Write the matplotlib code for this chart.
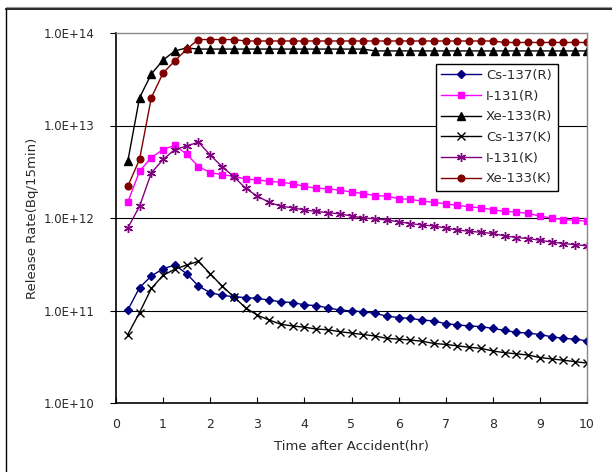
import matplotlib
matplotlib.use("Agg")
import matplotlib.pyplot as plt
from matplotlib.lines import Line2D

# time after accident (hr), one point every 15 min
hours = [0.25, 0.5, 0.75, 1.0, 1.25, 1.5, 1.75, 2.0, 2.25, 2.5,
         2.75, 3.0, 3.25, 3.5, 3.75, 4.0, 4.25, 4.5, 4.75, 5.0,
         5.25, 5.5, 5.75, 6.0, 6.25, 6.5, 6.75, 7.0, 7.25, 7.5,
         7.75, 8.0, 8.25, 8.5, 8.75, 9.0, 9.25, 9.5, 9.75, 10.0]

cs137_r = [1.01e11, 1.77e11, 2.36e11, 2.83e11, 3.1e11, 2.5e11, 1.84e11, 1.56e11, 1.46e11, 1.41e11,
           1.38e11, 1.35e11, 1.30e11, 1.24e11, 1.22e11, 1.15e11, 1.13e11, 1.07e11, 1.01e11, 0.99e11,
           0.97e11, 0.93e11, 0.87e11, 0.84e11, 0.82e11, 0.79e11, 0.77e11, 0.72e11, 0.70e11, 0.68e11,
           0.67e11, 0.64e11, 0.61e11, 0.58e11, 0.57e11, 0.55e11, 0.52e11, 0.50e11, 0.49e11, 0.47e11]
i131_r = [1.48e12, 3.2e12, 4.5e12, 5.5e12, 6.1e12, 4.9e12, 3.6e12, 3.1e12, 2.94e12, 2.83e12,
          2.64e12, 2.58e12, 2.5e12, 2.43e12, 2.35e12, 2.2e12, 2.1e12, 2.07e12, 2.0e12, 1.91e12,
          1.84e12, 1.75e12, 1.72e12, 1.62e12, 1.59e12, 1.52e12, 1.48e12, 1.42e12, 1.37e12, 1.32e12,
          1.29e12, 1.23e12, 1.18e12, 1.16e12, 1.12e12, 1.05e12, 1.0e12, 0.96e12, 0.95e12, 0.92e12]
xe133_r = [4.1e12, 2.0e13, 3.6e13, 5.1e13, 6.4e13, 6.9e13, 6.7e13, 6.7e13, 6.7e13, 6.7e13,
           6.7e13, 6.7e13, 6.7e13, 6.7e13, 6.7e13, 6.7e13, 6.7e13, 6.7e13, 6.7e13, 6.7e13,
           6.7e13, 6.4e13, 6.4e13, 6.4e13, 6.4e13, 6.4e13, 6.4e13, 6.4e13, 6.4e13, 6.4e13,
           6.4e13, 6.4e13, 6.4e13, 6.4e13, 6.4e13, 6.4e13, 6.4e13, 6.4e13, 6.4e13, 6.4e13]
cs137_k = [0.55e11, 0.95e11, 1.73e11, 2.4e11, 2.8e11, 3.1e11, 3.4e11, 2.5e11, 1.84e11, 1.41e11,
           1.07e11, 0.89e11, 0.79e11, 0.71e11, 0.68e11, 0.66e11, 0.63e11, 0.62e11, 0.59e11, 0.57e11,
           0.55e11, 0.53e11, 0.50e11, 0.49e11, 0.48e11, 0.465e11, 0.44e11, 0.43e11, 0.415e11, 0.40e11,
           0.39e11, 0.365e11, 0.35e11, 0.34e11, 0.33e11, 0.31e11, 0.30e11, 0.29e11, 0.28e11, 0.27e11]
i131_k = [0.78e12, 1.34e12, 3.07e12, 4.3e12, 5.5e12, 6.0e12, 6.6e12, 4.8e12, 3.6e12, 2.8e12,
          2.1e12, 1.72e12, 1.48e12, 1.34e12, 1.29e12, 1.22e12, 1.18e12, 1.14e12, 1.11e12, 1.05e12,
          1.0e12, 0.98e12, 0.95e12, 0.91e12, 0.87e12, 0.84e12, 0.82e12, 0.78e12, 0.74e12, 0.72e12,
          0.70e12, 0.68e12, 0.64e12, 0.615e12, 0.60e12, 0.575e12, 0.55e12, 0.53e12, 0.515e12, 0.50e12]
xe133_k = [2.2e12, 4.3e12, 2.0e13, 3.7e13, 5.0e13, 6.7e13, 8.5e13, 8.5e13, 8.5e13, 8.5e13,
           8.2e13, 8.2e13, 8.2e13, 8.2e13, 8.2e13, 8.2e13, 8.2e13, 8.2e13, 8.2e13, 8.2e13,
           8.2e13, 8.2e13, 8.2e13, 8.2e13, 8.2e13, 8.2e13, 8.2e13, 8.2e13, 8.2e13, 8.2e13,
           8.2e13, 8.2e13, 7.9e13, 7.9e13, 7.9e13, 7.9e13, 7.9e13, 7.9e13, 7.9e13, 7.9e13]

y_ticks = [1e10, 1e11, 1e12, 1e13, 1e14]
y_labels = ["1.0E+10", "1.0E+11", "1.0E+12", "1.0E+13", "1.0E+14"]
grid_levels = [1e11, 1e12, 1e13]

txt = "#2a2a2a"
plt.rcParams["font.family"] = "DejaVu Sans"

fig = plt.figure(figsize=(6.12, 4.72), dpi=100)
ax = fig.add_axes([116/612, 1-403/472, 471/612, 370/472])

ax.hlines(grid_levels, 0, 10, colors="black", lw=0.8, zorder=0.5)

ax.plot(hours, cs137_r, color="#000080", marker="D", ms=4.2, lw=1, label="Cs-137(R)")
ax.plot(hours, i131_r, color="#ff00ff", marker="s", ms=4.8, lw=1, label="I-131(R)")
ax.plot(hours, xe133_r, color="black", marker="^", ms=5.2, lw=1, label="Xe-133(R)")
ax.plot(hours, cs137_k, color="black", marker="x", ms=5.5, mew=1, lw=1, label="Cs-137(K)")
ax.plot(hours, i131_k, color="#800080", marker=(6, 2, 0), ms=6.5, mew=1, lw=1, label="I-131(K)")
ax.plot(hours, xe133_k, color="#800000", marker="o", ms=4.8, lw=1, label="Xe-133(K)")

ax.set_yscale("log")
ax.set_ylim(1e10, 1e14)
ax.set_xlim(0, 10)
ax.set_yticks(y_ticks)
ax.set_yticklabels(y_labels)
ax.minorticks_off()
ax.set_xticks(range(0, 11))

ax.tick_params(axis="x", direction="in", length=4, labelsize=9, colors=txt, pad=11)
ax.tick_params(axis="y", direction="out", length=4.5, labelsize=8.5, colors=txt, pad=11)
ax.tick_params(axis="both", color="black")
for s in ["left", "bottom"]:
    ax.spines[s].set_color("black")
    ax.spines[s].set_linewidth(1.2)
for s in ["right", "top"]:
    ax.spines[s].set_color("#888888")
    ax.spines[s].set_linewidth(1)

ax.set_xlabel("Time after Accident(hr)", fontsize=9.5, color=txt, labelpad=6)
ax.set_ylabel("Release Rate(Bq/15min)", fontsize=9.5, color=txt, labelpad=3)

leg = ax.legend(loc="upper left", bbox_to_anchor=(0.679, 0.917), borderaxespad=0,
                fontsize=9.5, handlelength=3, fancybox=False, framealpha=1,
                borderpad=0.4, labelspacing=0.58, handletextpad=0.4)
leg.get_frame().set_edgecolor("black")
leg.get_frame().set_linewidth(1)
for t in leg.get_texts():
    t.set_color(txt)

# outer frame of the chart area
fig.add_artist(Line2D([6/612, 6/612], [0, 1-8.5/472], color="black", lw=1))
fig.add_artist(Line2D([6/612, 1], [1-8.5/472, 1-8.5/472], color="black", lw=1.2))
fig.add_artist(Line2D([6/612, 1], [1-7/472, 1-7/472], color="#999999", lw=0.8))

fig.savefig("out.png", dpi=100)
